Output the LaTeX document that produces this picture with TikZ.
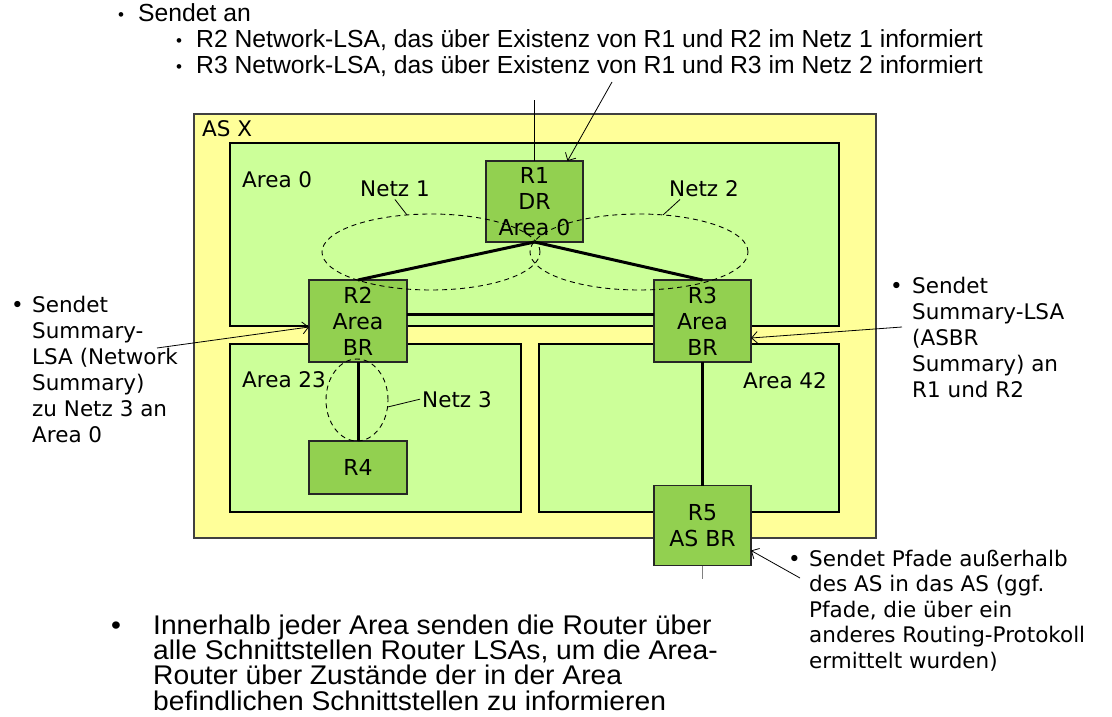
\documentclass[tikz,border=0pt]{standalone}
\usepackage{fontspec}
\setmainfont{DejaVu Sans}
\newfontfamily\tahfont{Liberation Sans}
\newfontfamily\tahwidefont[FakeStretch=1.045]{Liberation Sans}
\usetikzlibrary{shapes.geometric,arrows.meta}
\definecolor{asyellow}{HTML}{FFFF99}
\definecolor{areagreen}{HTML}{CCFF99}
\definecolor{routergreen}{HTML}{92D050}
\definecolor{asborder}{HTML}{404040}
\newcommand\mylblfont{\fontsize{21.5}{26}\selectfont}
\newcommand\myrouterfont{\fontsize{22}{26}\selectfont}
\newcommand\mytopfont{\tahfont\fontsize{24.7}{26}\selectfont}
\newcommand\mybottomfont{\tahwidefont\fontsize{27}{25.3}\selectfont}
\begin{document}
\begin{tikzpicture}[x=1pt,y=-1pt,
  asbox/.style={draw=asborder, fill=asyellow, line width=1.6pt},
  areabox/.style={draw=black, fill=areagreen, line width=1.2pt},
  router/.style={draw=black!85, fill=routergreen, line width=1.2pt, inner sep=0pt, outer sep=0pt, align=center, font=\myrouterfont},
  link/.style={line width=3pt},
  netz/.style={ellipse, draw, dash pattern=on 5pt off 4pt, line width=0.9pt, inner sep=0pt, outer sep=0pt},
  lbl/.style={font=\mylblfont, inner sep=0pt, anchor=base west},
  note/.style={font=\mylblfont, inner sep=0pt, anchor=base west, align=left},
  topnote/.style={font=\mytopfont, inner sep=0pt, anchor=base west},
  bottomnote/.style={font=\mybottomfont, inner sep=0pt, anchor=base west, align=left},
  bul/.style={font=\mylblfont, inner sep=0pt, anchor=base west},
  topbul/.style={font=\tahfont\fontsize{17}{20}\selectfont, inner sep=0pt, anchor=base west},
  pointer/.style={line width=0.8pt},
  callout/.style={line width=0.8pt, -{Straight Barb[length=6pt,width=12pt]}}
]
\useasboundingbox (0,0) rectangle (1112,717);
\fill[white] (0,0) rectangle (1112,717);

% AS and areas
\draw[asbox] (194,114) rectangle (876,538);
\draw[areabox] (230,143) rectangle (839,326);
\draw[areabox] (230,344) rectangle (521,512);
\draw[areabox] (539,344) rectangle (839,512);
\node[lbl] (asx) at (202,136) {AS X};
\node[lbl] (a0) at (242,187) {Area 0};
\node[lbl] (a23) at (242,387) {Area 23};
\node[lbl] (a42) at (743,388) {Area 42};

% routers
\node[router, minimum width=97pt, minimum height=81pt] (R1) at (534.5,201.5) {R1\\DR\\Area 0};
\node[router, minimum width=98pt, minimum height=82pt] (R2) at (358,321) {R2\\Area\\BR};
\node[router, minimum width=97pt, minimum height=82pt] (R3) at (702.5,321) {R3\\Area\\BR};
\node[router, minimum width=98pt, minimum height=53pt] (R4) at (358,467.5) {R4};
\node[router, minimum width=97pt, minimum height=80pt] (R5) at (702.5,525.5) {R5\\AS BR};

% links
\coordinate (r1up) at (534.5,100);
\coordinate (r5down) at (702.5,579);
\draw[line width=0.8pt] (R1.north) -- (r1up);
\draw[line width=0.8pt, gray] (R5.south) -- (r5down);
\draw[link] (R1.south) -- (R2.north);
\draw[link] (R1.south) -- (R3.north);
\draw[link] ([yshift=7pt]R2.east) -- ([yshift=7pt]R3.west);
\draw[link] (R2.south) -- (R4.north);
\draw[link] (R3.south) -- (R5.north);

% networks
\node[netz, minimum width=218pt, minimum height=76pt] (n1) at (431,252) {};
\node[netz, minimum width=218pt, minimum height=76pt] (n2) at (639,252) {};
\node[netz, minimum width=62pt, minimum height=82pt] (n3) at (357,400) {};
\node[lbl] (n1l) at (360,196) {Netz 1};
\node[lbl] (n2l) at (669,196) {Netz 2};
\node[lbl] (n3l) at (422,407) {Netz 3};
\draw[pointer] ([yshift=-3pt]n1l.south) -- (n1.123);
\draw[pointer] ([shift={(11pt,-3pt)}]n2l.south west) -- (n2.57);
\draw[pointer] ([xshift=-2pt]n3l.west) -- (n3.-13);

% top text
\node[topbul] (tb0) at (118,21) {•};
\node[topnote] (t0) at (138,22) {Sendet an};
\node[topbul] (tb1) at (176,47) {•};
\node[topnote] (t1) at (196,48) {R2 Network-LSA, das über Existenz von R1 und R2 im Netz 1 informiert};
\node[topbul] (tb2) at (176,73) {•};
\node[topnote] (t2) at (196,74) {R3 Network-LSA, das über Existenz von R1 und R3 im Netz 2 informiert};

% left text (base anchor = last line)
\node[bul] (lb) at (11,312) {•};
\node[note] (lnote) at (32,442) {Sendet\\Summary-\\LSA (Network\\Summary)\\zu Netz 3 an\\Area 0};

% right text
\node[bul] (rb) at (890,293) {•};
\node[note] (rnote) at (912,397) {Sendet\\Summary-LSA\\(ASBR\\Summary) an\\R1 und R2};

% bottom right text
\node[bul] (brb) at (788,566) {•};
\node[note, font=\fontsize{21.5}{25.5}\selectfont] (brnote) at (809,668) {Sendet Pfade außerhalb\\des AS in das AS (ggf.\\Pfade, die über ein\\anderes Routing-Protokoll\\ermittelt wurden)};

% bottom text
\node[bottomnote] (bb) at (111,634) {•};
\node[bottomnote] (bnote) at (153,710) {Innerhalb jeder Area senden die Router über\\alle Schnittstellen Router LSAs, um die Area-\\Router über Zustände der in der Area\\befindlichen Schnittstellen zu informieren};

% callouts
\coordinate (topsrc) at (612,82);
\coordinate (leftsrc) at (157,348);
\coordinate (rightsrc) at (902,327);
\coordinate (brsrc) at (800,578);
\draw[callout] (topsrc) -- ([xshift=33pt]R1.north);
\draw[callout] (leftsrc) -- ([yshift=-6pt]R2.west);
\draw[callout] (rightsrc) -- ([yshift=-17pt]R3.east);
\draw[callout] (brsrc) -- ([yshift=-25pt]R5.east);
\end{tikzpicture}
\end{document}
